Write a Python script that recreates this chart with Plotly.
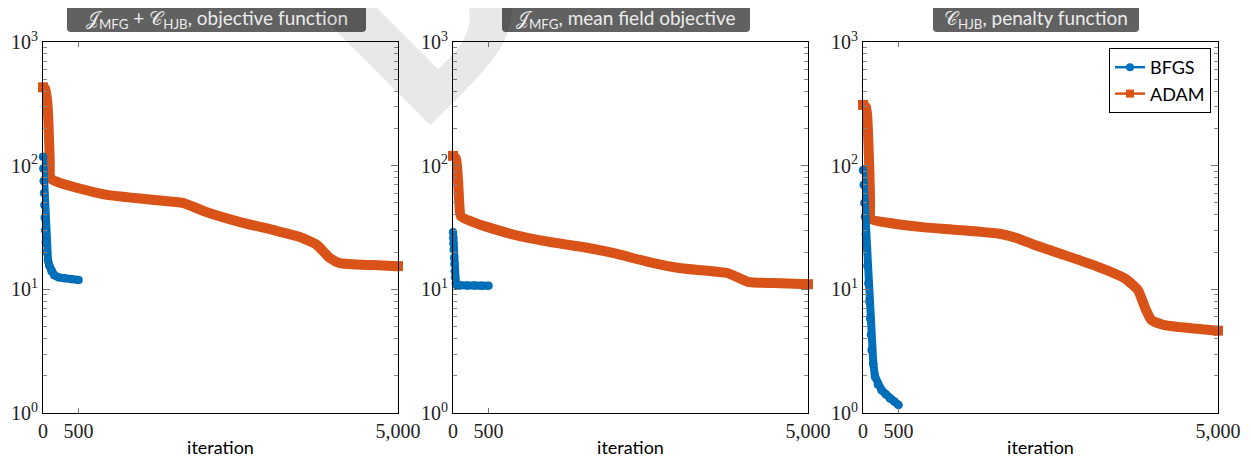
import plotly.graph_objects as go
from plotly.subplots import make_subplots

# page body adds an 8px margin; the figure is sized to fill the rest of the window
OFF = 8
W, H = 1251 - OFF, 459 - OFF

# ---------------- data ----------------
panel_titles = [
    "𝒥<sub>MFG</sub> + 𝒞<sub>HJB</sub>, objective function",
    "𝒥<sub>MFG</sub>, mean field objective",
    "𝒞<sub>HJB</sub>, penalty function",
]
series_names = ["BFGS", "ADAM"]
x_tickvals = [0, 500, 5000]
x_ticktext = ["0", "500", "5,000"]
y_tickvals = [1, 10, 100, 1000]
y_ticktext = ["10<sup>0</sup>", "10<sup>1</sup>", "10<sup>2</sup>", "10<sup>3</sup>"]

# panel 1: objective function
bfgs1_it = [0, 5, 10, 15, 20, 25, 30, 40, 55, 70, 90, 120, 160, 220, 300, 400, 500]
bfgs1_val = [118, 95, 75, 60, 48, 38, 30, 24, 20, 17.3, 15.5, 14.0, 13.0, 12.5, 12.3, 12.1, 11.9]
adam1_it = [0, 30, 60, 80, 95, 105, 200, 423, 900, 1400, 1830, 1970, 2310, 2775, 3240, 3620,
            3860, 4040, 4180, 4650, 5000]
adam1_val = [430, 420, 330, 200, 110, 79, 74, 67.5, 58, 54, 51, 50, 42, 35, 30.2, 26.5,
             22.8, 17.9, 16.3, 15.7, 15.4]

# panel 2: mean field objective
bfgs2_it = [0, 3, 6, 10, 15, 20, 25, 30, 40, 55, 100, 200, 300, 400, 500]
bfgs2_val = [29, 26, 23.5, 21, 18, 16, 14, 12.5, 11.2, 10.8, 10.8, 10.75, 10.75, 10.7, 10.7]
adam2_it = [0, 40, 60, 75, 90, 110, 394, 873, 1338, 1944, 2282, 2746, 3211, 3873, 4155, 4620, 5000]
adam2_val = [120, 115, 95, 70, 48, 39, 33.1, 27.5, 24.3, 21.4, 19.5, 16.7, 14.8, 13.5, 11.5, 11.2, 11.0]

# panel 3: penalty function
bfgs3_it = [0, 10, 20, 28, 40, 50, 62, 75, 88, 100, 112, 122, 145, 169, 210, 263, 320, 380, 440, 500]
bfgs3_val = [92, 70, 50, 38.6, 28, 21.6, 15.5, 11.2, 8.0, 5.8, 4.3, 3.23, 2.5, 1.97, 1.7, 1.53,
             1.42, 1.31, 1.24, 1.16]
adam3_it = [0, 40, 60, 75, 90, 100, 110, 399, 869, 1338, 1944, 2183, 2418, 2840, 3310, 3685,
            3873, 3967, 4061, 4249, 4624, 5000]
adam3_val = [310, 300, 250, 160, 90, 50, 37, 34.2, 31.7, 30.2, 28.0, 25.8, 22.8, 18.9, 15.2, 12.3,
             9.87, 7.23, 5.65, 5.14, 4.84, 4.63]

panels = [
    (bfgs1_it, bfgs1_val, adam1_it, adam1_val),
    (bfgs2_it, bfgs2_val, adam2_it, adam2_val),
    (bfgs3_it, bfgs3_val, adam3_it, adam3_val),
]

BLUE = "#0072BD"
ORANGE = "#D95319"
SERIF = "Liberation Serif"
SANS = "Lato"

# ---------------- layout geometry (window pixels) ----------------
x_dom_px = [(43, 398), (453, 808), (863, 1218)]
y_dom_px = (42, 413)
title_box_px = [(67, 366), (502, 750), (933, 1139)]


def px2paper(x, y):
    return (x - OFF) / W, 1 - (y - OFF) / H


fig = make_subplots(rows=1, cols=3)

for i, (bi, bv, ai, av) in enumerate(panels):
    col = i + 1
    fig.add_trace(go.Scatter(x=ai, y=av, mode="lines", name=series_names[1],
                             line=dict(color=ORANGE, width=10, shape="spline", smoothing=0.5),
                             cliponaxis=False, showlegend=False), row=1, col=col)
    fig.add_trace(go.Scatter(x=[ai[0], ai[-1]], y=[av[0], av[-1]], mode="markers",
                             name=series_names[1],
                             marker=dict(symbol="square", size=10, color=ORANGE),
                             cliponaxis=False, showlegend=False), row=1, col=col)
    fig.add_trace(go.Scatter(x=bi, y=bv, mode="lines+markers", name=series_names[0],
                             line=dict(color=BLUE, width=8),
                             marker=dict(symbol="circle", size=8, color=BLUE,
                                         line=dict(color="#005a96", width=0.5)),
                             cliponaxis=False, showlegend=False), row=1, col=col)

# legend-only entries
fig.add_trace(go.Scatter(x=[None], y=[None], mode="lines+markers", name=series_names[0],
                         line=dict(color=BLUE, width=2.5),
                         marker=dict(symbol="circle", size=8, color=BLUE)), row=1, col=3)
fig.add_trace(go.Scatter(x=[None], y=[None], mode="lines+markers", name=series_names[1],
                         line=dict(color=ORANGE, width=2.5),
                         marker=dict(symbol="square", size=8, color=ORANGE)), row=1, col=3)

minor_vals = [m * 10 ** d for d in range(3) for m in range(2, 10)]

for i in range(3):
    xa = "xaxis" if i == 0 else f"xaxis{i+1}"
    ya = "yaxis" if i == 0 else f"yaxis{i+1}"
    x0, x1 = x_dom_px[i]
    px0, _ = px2paper(x0, 0)
    px1, _ = px2paper(x1, 0)
    _, py0 = px2paper(0, y_dom_px[1])
    _, py1 = px2paper(0, y_dom_px[0])
    fig.layout[xa].update(
        domain=[px0, px1], range=[0, 5000], tickmode="array", automargin=False,
        tickvals=x_tickvals, ticktext=x_ticktext, ticks="inside", ticklen=5,
        tickcolor="#777", showline=True, linecolor="black", linewidth=1,
        mirror="allticks", showgrid=False, zeroline=False,
        tickfont=dict(family=SERIF, size=20, color="#222"),
        title=dict(text="iteration", font=dict(family=SANS, size=18, color="black"),
                   standoff=0),
    )
    fig.layout[ya].update(
        domain=[py0, py1], type="log", range=[0, 3],
        tickmode="array", tickvals=y_tickvals, ticktext=y_ticktext, automargin=False,
        ticks="inside", ticklen=7, tickcolor="#777",
        minor=dict(tickmode="array", tickvals=minor_vals, ticks="inside", ticklen=4,
                   tickcolor="#888", showgrid=False),
        showline=True, linecolor="black", linewidth=1, mirror="allticks",
        showgrid=False, zeroline=False,
        tickfont=dict(family=SERIF, size=20, color="#222"),
    )


def rrect_path(x0, y0, x1, y1, r):
    pts = [("M", [(x0 + r, y0)]), ("L", [(x1 - r, y0)]), ("Q", [(x1, y0), (x1, y0 + r)]),
           ("L", [(x1, y1 - r)]), ("Q", [(x1, y1), (x1 - r, y1)]), ("L", [(x0 + r, y1)]),
           ("Q", [(x0, y1), (x0, y1 - r)]), ("L", [(x0, y0 + r)]),
           ("Q", [(x0, y0), (x0 + r, y0)])]
    s = ""
    for cmd, ps in pts:
        s += cmd + " " + " ".join("%.5f,%.5f" % px2paper(px, py) for px, py in ps) + " "
    return s + "Z"


shapes = []
annotations = []
for i, (bx0, bx1) in enumerate(title_box_px):
    shapes.append(dict(type="path", xref="paper", yref="paper",
                       path=rrect_path(bx0, 5, bx1, 32, 4),
                       fillcolor="#616161", line=dict(width=0)))
    cx, cy = px2paper((bx0 + bx1) / 2, 19)
    annotations.append(dict(text=panel_titles[i], x=cx, y=cy, xref="paper", yref="paper",
                            xanchor="center", yanchor="middle", showarrow=False,
                            font=dict(family=SANS, size=19, color="#ececec")))

# faint watermark letter
wx, wy = px2paper(426, 12)
annotations.append(dict(text="<b>D</b>", x=wx, y=wy, xref="paper", yref="paper",
                        xanchor="center", yanchor="middle", showarrow=False, textangle=-45,
                        font=dict(family="DejaVu Sans", size=240, color="rgba(0,0,0,0.09)")))

lx, ly = px2paper(1211, 48)
fig.update_layout(
    width=W, height=H, margin=dict(l=0, r=0, t=0, b=0, autoexpand=False),
    paper_bgcolor="white", plot_bgcolor="rgba(0,0,0,0)",
    shapes=shapes, annotations=annotations,
    legend=dict(x=lx, y=ly, xanchor="right", yanchor="top", bgcolor="white",
                bordercolor="black", borderwidth=1, itemwidth=30,
                font=dict(family=SANS, size=18, color="black"),
                tracegroupgap=0),
)

fig.write_html("out.html")
